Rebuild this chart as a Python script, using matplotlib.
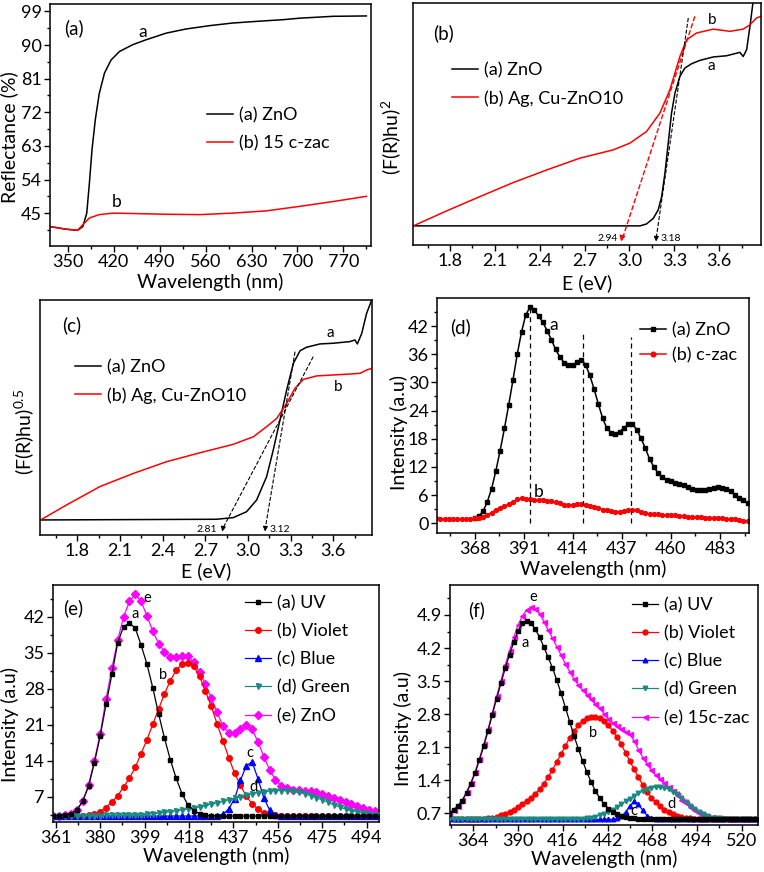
import numpy as np
import matplotlib
matplotlib.use("Agg")
import matplotlib.pyplot as plt
from matplotlib.ticker import MultipleLocator

plt.rcParams['font.family'] = ['Lato', 'DejaVu Sans']
plt.rcParams['mathtext.fontset'] = 'custom'
plt.rcParams['mathtext.rm'] = 'Lato'

# ---------------- data ----------------
# (a) diffuse reflectance
refl_wl_zno = [323, 347.5, 365, 373, 379, 383, 387, 392, 398, 406, 416, 429, 449, 469, 500, 530,
               566, 601, 642, 678, 703, 754, 805]
refl_zno = [41.4, 40.7, 40.4, 41.4, 45, 53, 62, 70, 77, 82.5, 86, 88.3, 90.1, 91.4, 93.2, 94.3,
            95.2, 95.9, 96.4, 96.8, 97.2, 97.7, 97.8]
refl_wl_czac = [323, 347.5, 365, 373, 383, 398, 419, 449, 500, 551, 601, 652, 703, 754, 805]
refl_czac = [41.4, 40.7, 40.4, 41.9, 43.7, 44.6, 45.0, 44.9, 44.7, 44.6, 45.0, 45.6, 46.8, 48.1, 49.5]

# (b) (F(R)hu)^2, arbitrary units
b_e_zno = [1.555, 3.07, 3.114, 3.159, 3.192, 3.215, 3.237, 3.259, 3.281, 3.304, 3.337, 3.37, 3.415,
           3.471, 3.56, 3.649, 3.738, 3.76, 3.783, 3.805, 3.827]
b_zno = [7.9, 7.9, 8.7, 11.0, 14.5, 20.0, 29.7, 42.1, 54.5, 62.8, 69.7, 73.1, 74.9,
         76.3, 77.7, 78.2, 79.6, 77.9, 80.7, 90.3, 101]
b_e_ag = [1.555, 1.778, 2.0, 2.223, 2.446, 2.669, 2.891, 3.003, 3.114, 3.203, 3.27, 3.337, 3.382,
          3.448, 3.56, 3.671, 3.76, 3.805, 3.849, 3.878]
b_ag = [7.9, 14.1, 20.0, 25.8, 31.0, 35.9, 39.3, 42.1, 46.9, 54.5, 64.1, 77.9, 84.8,
        87.6, 89.2, 88.3, 89.2, 91.0, 93.8, 94.5]

# (c) (F(R)hu)^0.5, arbitrary units
c_e_zno = [1.542, 2.78, 2.897, 2.99, 3.061, 3.131, 3.178, 3.225, 3.272, 3.319, 3.366, 3.412, 3.506,
           3.6, 3.717, 3.752, 3.769, 3.8, 3.834, 3.87]
c_zno = [6.4, 6.7, 7.4, 9.9, 14.9, 24.8, 36.2, 48.9, 61.7, 73.0, 78.4, 79.9, 81.3,
         81.6, 82.3, 83.0, 81.3, 85.8, 94.3, 100]
c_e_ag = [1.542, 1.725, 1.959, 2.194, 2.428, 2.663, 2.897, 3.038, 3.131, 3.202, 3.272, 3.33, 3.389,
          3.483, 3.6, 3.717, 3.788, 3.834, 3.87]
c_ag = [6.4, 12.8, 20.6, 26.2, 31.2, 35.0, 38.6, 41.8, 46.1, 49.6, 56.0, 62.4, 66.2,
        67.7, 68.1, 68.5, 68.8, 70.2, 70.9]

# (d) PL spectra
d_wl_zno = np.arange(368, 497, 2)
d_zno = [1.1, 1.5, 2.6, 4.6, 7.4, 11.2, 15.5, 20.2, 25.2, 30.5, 36.0, 40.7, 44.4, 46.0, 45.5, 44.1,
         42.8, 41.0, 39.1, 37.0, 35.4, 34.2, 33.6, 33.7, 34.3, 34.8, 33.8, 31.5, 28.6, 25.4, 22.4,
         20.2, 19.3, 19.1, 19.5, 20.3, 21.1, 21.2, 19.9, 18.1, 16.0, 13.7, 12.0, 10.7, 9.8, 9.3,
         9.0, 8.6, 8.3, 8.1, 7.8, 7.4, 7.1, 7.0, 7.1, 7.4, 7.6, 7.7, 7.6, 7.4, 6.8, 6.1, 5.4, 4.9, 4.3]
d_wl_czac = np.arange(350, 497, 2)
d_czac = [1.2, 1.0, 0.9, 0.9, 0.85, 0.9, 0.9, 1.0, 1.0, 1.1, 1.2, 1.4, 1.8, 2.3, 2.9, 3.3, 3.6,
          4.1, 4.6, 5.1, 5.3, 5.2, 5.1, 5.0, 5.0, 4.9, 4.8, 4.7, 4.5, 4.3, 4.0, 3.8, 4.0, 4.2, 4.2,
          4.0, 3.7, 3.5, 3.2, 2.9, 2.8, 2.6, 2.5, 2.5, 2.6, 2.8, 2.9, 2.8, 2.5, 2.2, 2.0, 1.9, 1.9,
          1.8, 1.8, 1.7, 1.7, 1.6, 1.5, 1.4, 1.4, 1.3, 1.3, 1.2, 1.2, 1.1, 1.1, 1.1, 1.0, 1.0, 0.9,
          0.8, 0.6, 0.4]
d_peaks = [394.1, 418.7, 441.2]
d_peak_top = [46.1, 40.4, 39.7]

# (e) deconvoluted PL of ZnO
e_wl = np.arange(360, 500.1, 2.5)
e_zno = [3.24, 3.3, 3.4, 3.7, 4.4, 6.2, 9.2, 14.0, 19.3, 26.0, 32.0, 37.5, 42.0, 45.0, 46.4, 45.0,
         42.2, 39.2, 36.8, 35.2, 34.2, 34.1, 34.4, 34.3, 33.2, 31.2, 28.9, 26.3, 23.4, 20.8, 19.4,
         19.4, 20.2, 20.9, 20.1, 17.7, 14.8, 12.2, 10.3, 9.1, 8.6, 8.4, 8.3, 8.2, 8.1, 7.9, 7.6,
         7.2, 6.8, 6.4, 6.0, 5.5, 5.1, 4.8, 4.4, 4.2, 4.0]
e_uv = [3.24, 3.3, 3.4, 3.7, 4.4, 6.1, 9.0, 13.6, 18.8, 25.0, 30.8, 37.0, 40.1, 40.8, 39.8, 36.5,
        32.8, 28.2, 23.1, 18.4, 14.2, 10.6, 7.6, 5.4, 4.3, 3.7, 3.4, 3.3, 3.24, 3.24, 3.24, 3.24,
        3.24, 3.24, 3.24, 3.24, 3.24, 3.24, 3.24, 3.24, 3.24, 3.24, 3.24, 3.24, 3.24, 3.24, 3.24,
        3.24, 3.24, 3.24, 3.24, 3.24, 3.24, 3.24, 3.24, 3.24, 3.24]
e_violet = [3.24, 3.24, 3.24, 3.24, 3.24, 3.3, 3.4, 3.7, 4.1, 4.9, 6.0, 7.2, 8.9, 10.6, 12.7, 15.4,
            18.1, 21.1, 24.1, 27.0, 29.6, 31.6, 32.8, 33.1, 32.4, 30.4, 27.6, 24.6, 21.2, 17.9,
            14.6, 11.6, 9.2, 7.1, 5.6, 4.6, 3.9, 3.6, 3.4, 3.3, 3.24, 3.24, 3.24, 3.24, 3.24, 3.24,
            3.24, 3.24, 3.24, 3.24, 3.24, 3.24, 3.24, 3.24, 3.24, 3.24, 3.24]
e_blue = [3.24, 3.24, 3.24, 3.24, 3.24, 3.24, 3.24, 3.24, 3.24, 3.24, 3.24, 3.24, 3.24, 3.24,
          3.24, 3.24, 3.24, 3.24, 3.24, 3.24, 3.24, 3.24, 3.24, 3.24, 3.24, 3.24, 3.24, 3.24, 3.3,
          3.6, 4.6, 6.6, 10.2, 13.0, 13.8, 10.5, 6.8, 4.4, 3.5, 3.3, 3.24, 3.24, 3.24, 3.24, 3.24,
          3.24, 3.24, 3.24, 3.24, 3.24, 3.24, 3.24, 3.24, 3.24, 3.24, 3.24, 3.24]
e_green = [3.2, 3.2, 3.2, 3.2, 3.25, 3.25, 3.3, 3.3, 3.3, 3.35, 3.35, 3.4, 3.4, 3.4, 3.45, 3.5,
           3.6, 3.7, 3.8, 3.95, 4.1, 4.25, 4.4, 4.6, 4.8, 5.0, 5.3, 5.55, 5.8, 6.1, 6.4, 6.7, 7.0,
           7.3, 7.55, 7.8, 8.0, 8.1, 8.2, 8.2, 8.2, 8.1, 7.9, 7.6, 7.2, 6.8, 6.4, 5.9, 5.4, 5.0,
           4.6, 4.3, 4.0, 3.8, 3.6, 3.5, 3.4]

# (f) deconvoluted PL of 15c-zac
f_wl = np.arange(350, 530.1, 2.5)
f_czac = [0.70, 0.78, 0.86, 0.98, 1.15, 1.35, 1.58, 1.86, 2.16, 2.48, 2.83, 3.18, 3.51, 3.84, 4.14,
          4.43, 4.69, 4.88, 5.01, 5.06, 5.02, 4.93, 4.76, 4.58, 4.41, 4.23, 4.05, 3.86, 3.70, 3.54,
          3.42, 3.31, 3.21, 3.11, 3.01, 2.92, 2.81, 2.70, 2.62, 2.55, 2.48, 2.43, 2.37, 2.23, 2.05,
          1.88, 1.74, 1.61, 1.51, 1.42, 1.35, 1.26, 1.17, 1.08, 0.99, 0.91, 0.84, 0.77, 0.71, 0.67,
          0.64, 0.62, 0.61, 0.60, 0.59, 0.58, 0.57, 0.57, 0.57, 0.57, 0.57, 0.57, 0.57]
f_uv = [0.69, 0.77, 0.85, 0.97, 1.13, 1.33, 1.55, 1.83, 2.12, 2.44, 2.79, 3.13, 3.45, 3.77, 4.06,
        4.33, 4.56, 4.72, 4.77, 4.72, 4.60, 4.43, 4.22, 4.00, 3.78, 3.52, 3.24, 2.94, 2.64, 2.34,
        2.07, 1.81, 1.57, 1.36, 1.17, 1.02, 0.90, 0.80, 0.73, 0.68, 0.64, 0.62, 0.60, 0.59, 0.58,
        0.57, 0.57, 0.57, 0.57, 0.57, 0.57, 0.57, 0.57, 0.57, 0.57, 0.57, 0.57, 0.57, 0.57, 0.57,
        0.57, 0.57, 0.57, 0.57, 0.57, 0.57, 0.57, 0.57, 0.57, 0.57, 0.57, 0.57, 0.57]
f_violet = [0.57, 0.57, 0.57, 0.57, 0.57, 0.57, 0.57, 0.57, 0.58, 0.59, 0.61, 0.63, 0.66, 0.69,
            0.73, 0.78, 0.83, 0.89, 0.96, 1.03, 1.11, 1.21, 1.33, 1.47, 1.62, 1.79, 1.96, 2.13,
            2.30, 2.44, 2.56, 2.65, 2.71, 2.74, 2.74, 2.71, 2.65, 2.56, 2.45, 2.31, 2.16, 1.98,
            1.80, 1.63, 1.46, 1.30, 1.16, 1.03, 0.93, 0.85, 0.78, 0.72, 0.68, 0.64, 0.62, 0.60,
            0.59, 0.58, 0.57, 0.57, 0.57, 0.57, 0.57, 0.57, 0.57, 0.57, 0.57, 0.57, 0.57, 0.57,
            0.57, 0.57, 0.57]
f_blue = [0.57] * 39 + [0.59, 0.64, 0.72, 0.86, 0.95, 0.89, 0.76, 0.65, 0.60, 0.58] + [0.57] * 24
f_green = [0.57] * 31 + [0.58, 0.59, 0.61, 0.63, 0.66, 0.69, 0.73, 0.78, 0.83, 0.89, 0.95, 1.01,
                         1.07, 1.12, 1.17, 1.21, 1.24, 1.25, 1.25, 1.24, 1.21, 1.16, 1.10, 1.02,
                         0.94, 0.86, 0.79, 0.73, 0.68, 0.64, 0.61, 0.60, 0.59, 0.58] + [0.57] * 8

# ---------------- layout ----------------
W, H = 764, 872
fig = plt.figure(figsize=(W / 100, H / 100), dpi=100)

BLACK, RED, BLUE, TEAL, MAG = '#000000', '#ff0000', '#0000ff', '#1a8a80', '#ff00ff'
TFS = 13      # tick labels
LFS = 14      # axis labels
GFS = 13      # legend


def box(x0, y0, x1, y1):
    ax = fig.add_axes([x0 / W, 1 - y1 / H, (x1 - x0) / W, (y1 - y0) / H])
    ax.px = (x0, y0, x1, y1)
    return ax


def style(ax, xmaj, ymaj=None):
    ax.xaxis.set_major_locator(MultipleLocator(xmaj))
    ax.xaxis.set_minor_locator(MultipleLocator(xmaj / 2))
    if ymaj is None:
        ax.set_yticks([])
    else:
        ax.yaxis.set_major_locator(MultipleLocator(ymaj))
        ax.yaxis.set_minor_locator(MultipleLocator(ymaj / 2))
    ax.tick_params(which='both', direction='out', top=False, right=False, width=1,
                   labelsize=TFS, pad=2)
    ax.tick_params(which='major', length=4)
    ax.tick_params(which='minor', length=2.5)
    for s in ax.spines.values():
        s.set_linewidth(1.1)


def labels(ax, xl, yl, xtop, yright, ycen):
    # label positions given in figure pixels
    x0, y0, x1, y1 = ax.px
    ax.set_xlabel(xl, fontsize=LFS)
    ax.set_ylabel(yl, fontsize=LFS)
    ax.xaxis.set_label_coords(0.5, (y1 - xtop) / (y1 - y0))
    ax.yaxis.set_label_coords((yright - x0) / (x1 - x0), (y1 - ycen) / (y1 - y0))


def leg(ax, x, y, **kw):
    # y is the centre of the first legend row, in figure pixels
    return ax.legend(loc='upper left', bbox_to_anchor=(x / W, 1 - (y - 8) / H),
                     bbox_transform=fig.transFigure, frameon=False, borderpad=0,
                     borderaxespad=0, fontsize=GFS, handletextpad=0.3, handlelength=1.45, **kw)


def tag(x, y, s, size=13.5):
    fig.text(x / W, 1 - y / H, s, fontsize=size, ha='left', va='center')


# (a)
ax = box(50, 4, 371, 246)
ax.plot(refl_wl_zno, refl_zno, color=BLACK, lw=1.1, label='(a) ZnO')
ax.plot(refl_wl_czac, refl_czac, color=RED, lw=1.1, label='(b) 15 c-zac')
ax.set_xlim(323, 812)
ax.set_ylim(36.2, 101)
style(ax, 70, 9)
labels(ax, 'Wavelength (nm)', 'Reflectance (%)', 273, 18, 137)
ax.text(464, 93.6, 'a', fontsize=12.5, ha='center', va='center')
ax.text(424.6, 48.0, 'b', fontsize=12.5, ha='center', va='center')
leg(ax, 207, 115, labelspacing=0.67)
tag(64, 28, '(a)')

# (b)
ax = box(413, 3, 761, 245)
ax.plot(b_e_zno, b_zno, color=BLACK, lw=1.1, label='(a) ZnO')
ax.plot(b_e_ag, b_ag, color=RED, lw=1.1, label='(b) Ag, Cu-ZnO10')
ax.plot([3.437, 2.955], [94.5, 3.0], color=RED, lw=1, ls='--')
ax.annotate('', xy=(2.94, 0.3), xytext=(2.955, 4.5),
            arrowprops=dict(arrowstyle='-|>', color=RED, lw=1, mutation_scale=8))
ax.plot([3.393, 3.179], [93.8, 3.0], color=BLACK, lw=0.8, ls='--')
ax.annotate('', xy=(3.177, 0.3), xytext=(3.18, 4.5),
            arrowprops=dict(arrowstyle='-|>', color=BLACK, lw=0.8, mutation_scale=7))
ax.set_xlim(1.553, 3.879)
ax.set_ylim(0, 100)
style(ax, 0.3)
labels(ax, 'E (eV)', '(F(R)hu)$^{2}$', 274, 404, 137)
ax.text(2.855, 2.5, '2.94', fontsize=7.5, ha='center', va='center')
ax.text(3.205, 2.5, '3.18', fontsize=7.5, ha='left', va='center')
ax.text(3.549, 92.8, 'b', fontsize=11, ha='center', va='center')
ax.text(3.549, 73.8, 'a', fontsize=11, ha='center', va='center')
leg(ax, 452, 70, labelspacing=0.67)
tag(433, 33, '(b)')

# (c)
ax = box(40, 300, 372, 535)
ax.plot(c_e_zno, c_zno, color=BLACK, lw=1.1, label='(a) ZnO')
ax.plot(c_e_ag, c_ag, color=RED, lw=1.1, label='(b) Ag, Cu-ZnO10')
ax.plot([3.459, 2.825], [75.9, 3.0], color=BLACK, lw=0.8, ls='--')
ax.annotate('', xy=(2.815, 0.3), xytext=(2.83, 4.5),
            arrowprops=dict(arrowstyle='-|>', color=BLACK, lw=0.8, mutation_scale=7))
ax.plot([3.331, 3.122], [78.0, 3.0], color=BLACK, lw=0.8, ls='--')
ax.annotate('', xy=(3.12, 0.3), xytext=(3.123, 4.5),
            arrowprops=dict(arrowstyle='-|>', color=BLACK, lw=0.8, mutation_scale=7))
ax.set_xlim(1.538, 3.872)
ax.set_ylim(0, 100)
style(ax, 0.3)
labels(ax, 'E (eV)', '(F(R)hu)$^{0.5}$', 562, 37, 432)
ax.text(2.709, 2.5, '2.81', fontsize=7.5, ha='center', va='center')
ax.text(3.15, 2.5, '3.12', fontsize=7.5, ha='left', va='center')
ax.text(3.577, 85.8, 'a', fontsize=11, ha='center', va='center')
ax.text(3.635, 63.1, 'b', fontsize=11, ha='center', va='center')
leg(ax, 75, 367, labelspacing=0.67)
tag(62, 325, '(c)')

# (d)
ax = box(437, 298, 749, 533)
ax.plot(d_wl_zno, d_zno, color=BLACK, lw=1.1, marker='s', ms=2.6, label='(a) ZnO')
ax.plot(d_wl_czac, d_czac, color=RED, lw=1.1, marker='o', ms=2.8, label='(b) c-zac')
for xp, yt in zip(d_peaks, d_peak_top):
    ax.plot([xp, xp], [0.0, yt], color=BLACK, lw=0.9, ls=(0, (4, 3)))
ax.set_xlim(350.4, 496.6)
ax.set_ylim(-2.06, 47.96)
style(ax, 23, 6)
labels(ax, 'Wavelength (nm)', 'Intensity (a.u)', 560, 408, 432)
ax.text(405, 42.2, 'a', fontsize=12.5, ha='center', va='center')
ax.text(398, 6.7, 'b', fontsize=12.5, ha='center', va='center')
leg(ax, 640, 330, labelspacing=0.5, numpoints=1, markerscale=1.2)
tag(450, 327, '(d)')

# (e)
ax = box(53, 585, 379, 822)
ax.plot(e_wl, e_uv, color=BLACK, lw=0.9, marker='s', ms=3.2, label='(a) UV', zorder=4)
ax.plot(e_wl, e_violet, color=RED, lw=0.9, marker='o', ms=4, label='(b) Violet', zorder=3)
ax.plot(e_wl, e_blue, color=BLUE, lw=0.9, marker='^', ms=4, label='(c) Blue', zorder=3)
ax.plot(e_wl, e_green, color=TEAL, lw=0.9, marker='v', ms=3.6, label='(d) Green', zorder=3)
ax.plot(e_wl, e_zno, color=MAG, lw=0.9, marker='D', ms=3.6, label='(e) ZnO', zorder=2)
ax.set_xlim(359.8, 499.3)
ax.set_ylim(2.08, 48.2)
style(ax, 19, 7)
labels(ax, 'Wavelength (nm)', 'Intensity (a.u)', 847, 19, 724)
for xt, yt, s in [(400, 45.6, 'e'), (395, 42.5, 'a'), (407, 30.7, 'b'), (444.1, 15.6, 'c'),
                  (445.8, 8.9, 'd')]:
    ax.text(xt, yt, s, fontsize=10.5, ha='center', va='center')
leg(ax, 245, 603, labelspacing=0.67, numpoints=1)
tag(63, 608, '(e)')

# (f)
ax = box(450, 585, 758, 825)
ax.plot(f_wl, f_uv, color=BLACK, lw=0.9, marker='s', ms=3, label='(a) UV', zorder=4)
ax.plot(f_wl, f_violet, color=RED, lw=0.9, marker='o', ms=3.5, label='(b) Violet', zorder=3)
ax.plot(f_wl, f_blue, color=BLUE, lw=0.9, marker='^', ms=3.3, label='(c) Blue', zorder=3)
ax.plot(f_wl, f_green, color=TEAL, lw=0.9, marker='v', ms=3.3, label='(d) Green', zorder=3)
ax.plot(f_wl, f_czac, color=MAG, lw=0.9, marker='<', ms=3.6, label='(e) 15c-zac', zorder=2)
ax.set_xlim(350.4, 529.5)
ax.set_ylim(0.452, 5.535)
style(ax, 26, 0.7)
labels(ax, 'Wavelength (nm)', 'Intensity (a.u)', 850, 412, 728)
for xt, yt, s in [(398.9, 5.29, 'e'), (394, 4.31, 'a'), (433.8, 2.41, 'b'), (457.4, 0.74, 'c'),
                  (479.3, 0.90, 'd')]:
    ax.text(xt, yt, s, fontsize=10.5, ha='center', va='center')
leg(ax, 632, 605, labelspacing=0.67, numpoints=1)
tag(468, 610, '(f)')

fig.savefig('out.png', dpi=100)
